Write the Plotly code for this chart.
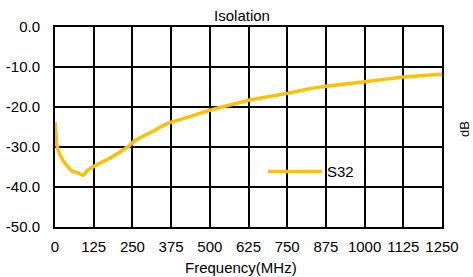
import plotly.graph_objects as go

freq_mhz = [1, 5, 15, 27, 40, 54, 75, 92, 103, 125, 179, 238, 260, 318, 350, 375,
            440, 500, 555, 625, 690, 750, 824, 875, 1000, 1125, 1250]
s32_db = [-23.8, -29.0, -31.8, -33.5, -34.8, -36.0, -36.5, -37.1, -36.0, -34.9,
          -32.7, -29.8, -28.3, -26.0, -24.6, -23.8, -22.3, -20.8, -19.7, -18.3,
          -17.4, -16.6, -15.4, -14.8, -13.7, -12.5, -11.8]
x_ticks = [0, 125, 250, 375, 500, 625, 750, 875, 1000, 1125, 1250]
y_ticks = [0, -10, -20, -30, -40, -50]

W, H = 473, 277
L, R, T, B = 55, 31, 27, 50
pw, ph = W - L - R, H - T - B

font = "Liberation Sans, Arial, sans-serif"

fig = go.Figure()
fig.add_trace(go.Scatter(x=freq_mhz, y=s32_db, mode="lines", name="S32",
                         line=dict(color="#FFC000", width=3.5, shape="spline", smoothing=0.3)))

axis_common = dict(showgrid=True, gridcolor="black", gridwidth=2, showline=True,
                   linecolor="black", linewidth=2, mirror=True, zeroline=False,
                   ticks="", tickfont=dict(family=font, size=15, color="black"))
fig.update_xaxes(range=[0, 1250], tickvals=x_ticks, ticktext=[str(v) for v in x_ticks],
                 ticklabelstandoff=5, automargin=False, **axis_common)
fig.update_yaxes(range=[-50, 0], tickvals=y_ticks, ticktext=[f"{v:.1f}" for v in y_ticks],
                 ticklabelstandoff=10, automargin=False, **axis_common)

fig.update_layout(
    width=W, height=H, margin=dict(l=L, r=R, t=T, b=B),
    paper_bgcolor="white", plot_bgcolor="white",
    font=dict(family=font, size=15, color="black"),
    title=dict(text="Isolation", x=242 / W, xanchor="center", xref="container",
               y=1 - 15.5 / H, yanchor="middle", yref="container",
               font=dict(family=font, size=15, color="black")),
    showlegend=True,
    legend=dict(x=(263 - L) / pw, y=(H - B - 171.7) / ph, xanchor="left", yanchor="middle",
                bgcolor="rgba(0,0,0,0)", borderwidth=0, itemwidth=54,
                font=dict(family=font, size=15, color="black")),
    annotations=[
        dict(text="dB", x=(464 - L) / pw, y=(H - B - 129) / ph, xref="paper", yref="paper",
             showarrow=False, textangle=-90, xanchor="center", yanchor="middle",
             font=dict(family=font, size=13, color="black")),
        dict(text="Frequency(MHz)", x=(240.5 - L) / pw, y=(H - B - 267.5) / ph,
             xref="paper", yref="paper", showarrow=False, xanchor="center", yanchor="middle",
             font=dict(family=font, size=15, color="black")),
    ],
)

fig.write_html("out.html", config={"displayModeBar": False},
               post_script="document.body.style.margin='0';")
